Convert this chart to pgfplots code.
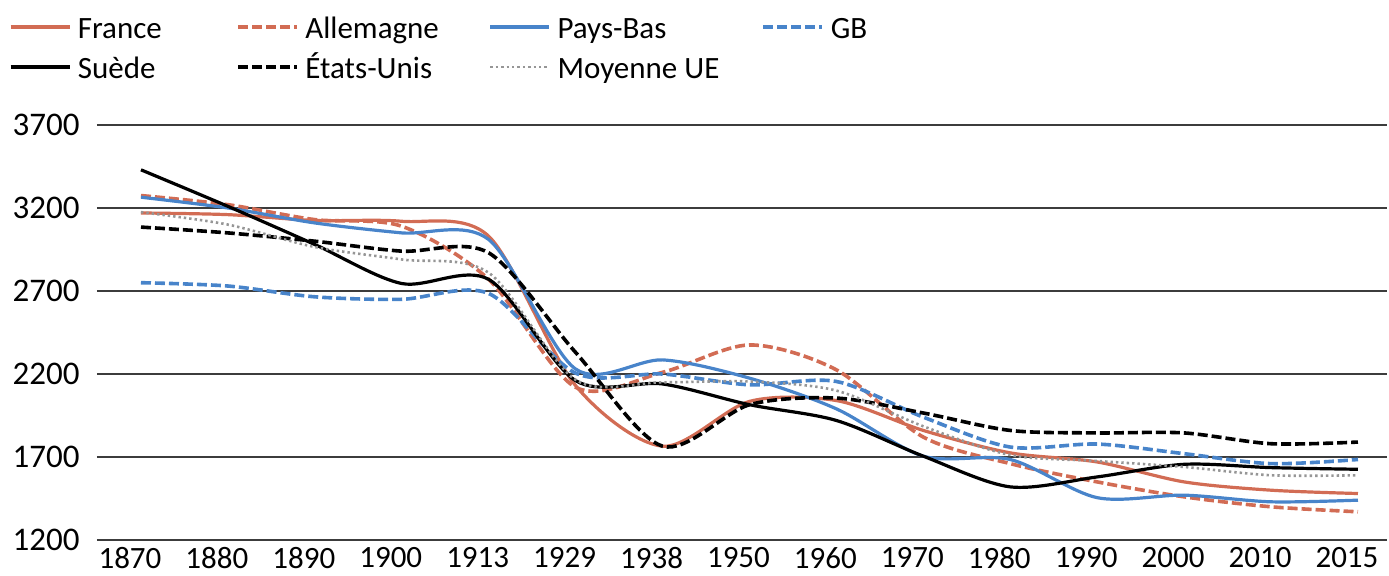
\documentclass[border=0pt]{standalone}
\usepackage{fontspec}
\setmainfont{Carlito}
\usepackage{pgfplots}
\usepackage{pgfplotstable}
\pgfplotsset{compat=1.18}
\definecolor{fr}{RGB}{210,108,84}
\definecolor{bl}{RGB}{72,132,202}
\definecolor{gr}{RGB}{150,150,150}
\definecolor{gridc}{RGB}{60,60,60}
\pgfplotstableread{
x   France Allemagne PaysBas GB   Suede Usa  UE
0   3170   3275      3265    2750 3430  3085 3175
1   3160   3220      3200    2730 3210  3050 3100
2   3125   3130      3110    2665 2980  3000 2965
3   3120   3090      3050    2650 2745  2940 2890
4   3030   2770      3010    2685 2770  2930 2810
5   2130   2120      2230    2205 2160  2330 2165
6   1765   2210      2285    2200 2140  1765 2150
7   2035   2375      2175    2135 2015  2015 2155
8   2040   2225      1990    2155 1920  2055 2100
9   1860   1820      1705    1940 1705  1965 1885
10  1725   1660      1685    1760 1520  1860 1712
11  1670   1550      1455    1778 1580  1845 1676
12  1550   1460      1470    1720 1656  1845 1640
13  1500   1400      1430    1660 1636  1780 1590
14  1480   1370      1440    1685 1626  1790 1590
}\data
\begin{document}
\fontsize{16bp}{20bp}\selectfont
\begin{tikzpicture}
\useasboundingbox (-48.5bp,-18bp) rectangle (646bp,270bp);
\begin{axis}[
  scale only axis,
  width=645bp, height=207.5bp,
  xmin=-0.506, xmax=14.334,
  ymin=1200, ymax=3700,
  ytick={1200,1700,2200,2700,3200,3700},
  xtick={0,...,14},
  xticklabels={1870,1880,1890,1900,1913,1929,1938,1950,1960,1970,1980,1990,2000,2010,2015},
  /pgf/number format/assume math mode=true,
  /pgf/number format/set thousands separator={},
  ymajorgrids,
  major grid style={color=gridc, line width=0.7bp},
  axis line style={draw=none},
  tick style={draw=none},
  tick label style={font=\fontsize{16.5bp}{20bp}\selectfont},
  yticklabel style={anchor=east, inner sep=0pt, xshift=-8.5bp},
  xticklabel style={anchor=north, inner sep=0pt, yshift=-3.5bp, xshift=-5.5bp, font=\fontsize{15.5bp}{18bp}\selectfont},
  legend columns=4,
  legend style={draw=none, fill=none, inner sep=0pt, outer sep=0pt,
    column sep=0pt, row sep=3bp,
    nodes={inner sep=0pt, text height=13bp, text depth=4bp, anchor=base west},
    font=\fontsize{15.5bp}{20bp}\selectfont,
    at={(axis description cs:-0.0682,1.2723)}, anchor=north west},
  legend image code/.code={\draw[#1] (0bp,5.5bp) -- (29.5bp,5.5bp); \path (32.8bp,0bp);},
  every axis plot/.append style={smooth, no markers},
]
\addplot[fr, line width=1.6bp] table[x=x, y=France] {\data};
\addlegendentry{\makebox[79.2bp][l]{France}}
\addplot[fr, line width=1.8bp, dash pattern=on 5bp off 2bp] table[x=x, y=Allemagne] {\data};
\addlegendentry{\makebox[91.7bp][l]{Allemagne}}
\addplot[bl, line width=1.6bp] table[x=x, y=PaysBas] {\data};
\addlegendentry{\makebox[102bp][l]{Pays-Bas}}
\addplot[bl, line width=1.8bp, dash pattern=on 5bp off 2bp] table[x=x, y=GB] {\data};
\addlegendentry{GB}
\addplot[black, line width=1.6bp] table[x=x, y=Suede] {\data};
\addlegendentry{\makebox[79.2bp][l]{Suède}}
\addplot[black, line width=1.8bp, dash pattern=on 5bp off 2bp] table[x=x, y=Usa] {\data};
\addlegendentry{\makebox[91.7bp][l]{États-Unis}}
\addplot[gr, line width=1.3bp, dash pattern=on 1.2bp off 1.5bp] table[x=x, y=UE] {\data};
\addlegendentry{\makebox[102bp][l]{Moyenne UE}}
\end{axis}
\end{tikzpicture}
\end{document}
